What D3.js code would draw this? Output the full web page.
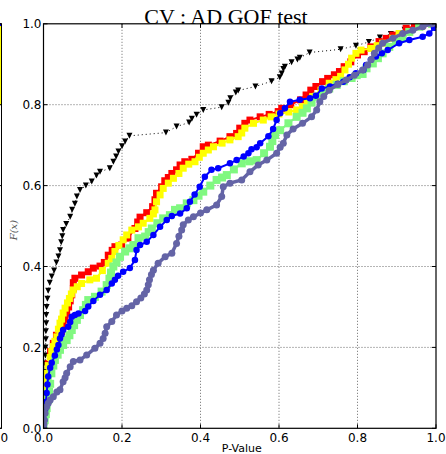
<!DOCTYPE html>
<html><head><meta charset="utf-8">
<script src="https://cdn.jsdelivr.net/npm/d3@7"></script>
<style>body{margin:0;background:#fff}svg{display:block}</style>
</head><body>
<svg id="c" width="446" height="454"></svg>
<script>
const titleText = "CV : AD GOF test";
const xLabel = "P-Value";
const yLabel = "F(x)";
const xTicks = [0, 0.2, 0.4, 0.6, 0.8, 1.0];
const yTicks = [0, 0.2, 0.4, 0.6, 0.8, 1.0];

const blackPts = [[0,0],[0.001,0.02],[0.001,0.04],[0.002,0.06],[0.002,0.08],[0.003,0.10],[0.003,0.12],[0.004,0.14],[0.004,0.16],[0.005,0.18],[0.005,0.20],[0.006,0.22],[0.006,0.24],[0.007,0.26],[0.007,0.28],[0.008,0.30],[0.010,0.32],[0.012,0.34],[0.016,0.36],[0.021,0.375],[0.027,0.39],[0.033,0.41],[0.038,0.425],[0.042,0.44],[0.045,0.46],[0.048,0.475],[0.050,0.49],[0.058,0.505],[0.068,0.523],[0.073,0.54],[0.080,0.555],[0.085,0.573],[0.093,0.589],[0.108,0.60],[0.123,0.61],[0.135,0.625],[0.144,0.634],[0.169,0.643],[0.178,0.659],[0.185,0.672],[0.191,0.684],[0.200,0.697],[0.208,0.709],[0.219,0.723],[0.312,0.731],[0.339,0.746],[0.371,0.756],[0.378,0.765],[0.390,0.775],[0.407,0.787],[0.454,0.794],[0.471,0.805],[0.476,0.816],[0.490,0.830],[0.496,0.835],[0.540,0.845],[0.581,0.858],[0.602,0.868],[0.607,0.877],[0.611,0.888],[0.615,0.894],[0.632,0.905],[0.647,0.912],[0.653,0.916],[0.678,0.929],[0.757,0.937],[0.796,0.946],[0.829,0.955],[0.857,0.966],[0.885,0.975],[0.920,0.985],[0.960,0.993],[0.990,1.0]];

const redPts = [[0,0],[0.002,0.04],[0.004,0.08],[0.007,0.12],[0.012,0.16],[0.018,0.19],[0.025,0.21],[0.033,0.23],[0.046,0.24],[0.050,0.255],[0.055,0.27],[0.059,0.285],[0.064,0.30],[0.068,0.315],[0.072,0.33],[0.076,0.345],[0.076,0.36],[0.080,0.371],[0.097,0.379],[0.114,0.387],[0.127,0.396],[0.144,0.401],[0.155,0.41],[0.165,0.428],[0.175,0.44],[0.182,0.449],[0.199,0.453],[0.215,0.47],[0.233,0.494],[0.240,0.51],[0.246,0.522],[0.263,0.533],[0.278,0.548],[0.284,0.565],[0.288,0.581],[0.301,0.597],[0.309,0.612],[0.318,0.62],[0.327,0.630],[0.339,0.639],[0.348,0.651],[0.360,0.659],[0.378,0.665],[0.395,0.68],[0.407,0.696],[0.420,0.700],[0.450,0.71],[0.475,0.721],[0.492,0.729],[0.500,0.742],[0.513,0.754],[0.526,0.762],[0.552,0.770],[0.575,0.776],[0.598,0.783],[0.607,0.791],[0.630,0.80],[0.655,0.812],[0.669,0.824],[0.681,0.836],[0.694,0.845],[0.711,0.857],[0.724,0.865],[0.741,0.874],[0.754,0.882],[0.766,0.894],[0.783,0.906],[0.800,0.923],[0.817,0.931],[0.834,0.943],[0.855,0.956],[0.873,0.964],[0.890,0.972],[0.915,0.976],[0.924,0.989],[0.945,0.993],[0.966,0.997],[0.99,1.0]];

const yellowPts = [[0,0],[0.001,0.03],[0.002,0.06],[0.003,0.09],[0.005,0.12],[0.008,0.136],[0.012,0.155],[0.017,0.175],[0.021,0.19],[0.025,0.202],[0.029,0.215],[0.034,0.226],[0.038,0.245],[0.042,0.260],[0.046,0.27],[0.050,0.285],[0.055,0.297],[0.061,0.31],[0.066,0.321],[0.071,0.332],[0.076,0.342],[0.086,0.35],[0.097,0.358],[0.118,0.367],[0.135,0.371],[0.150,0.39],[0.165,0.408],[0.174,0.420],[0.182,0.437],[0.192,0.452],[0.203,0.466],[0.212,0.478],[0.225,0.490],[0.242,0.498],[0.254,0.507],[0.271,0.519],[0.280,0.53],[0.284,0.540],[0.288,0.56],[0.297,0.577],[0.305,0.593],[0.318,0.606],[0.331,0.618],[0.345,0.63],[0.356,0.643],[0.370,0.653],[0.386,0.659],[0.397,0.67],[0.407,0.680],[0.420,0.688],[0.433,0.696],[0.455,0.705],[0.475,0.713],[0.496,0.721],[0.505,0.73],[0.513,0.742],[0.535,0.754],[0.560,0.762],[0.580,0.77],[0.600,0.777],[0.625,0.782],[0.645,0.787],[0.660,0.795],[0.672,0.805],[0.686,0.820],[0.707,0.836],[0.728,0.853],[0.745,0.862],[0.757,0.870],[0.768,0.886],[0.777,0.9],[0.785,0.915],[0.796,0.927],[0.809,0.935],[0.834,0.939],[0.850,0.946],[0.864,0.952],[0.890,0.964],[0.906,0.976],[0.932,0.980],[0.962,0.993],[0.99,1.0]];

const greenPts = [[0,0],[0.003,0.02],[0.006,0.035],[0.008,0.05],[0.012,0.07],[0.014,0.09],[0.017,0.11],[0.020,0.136],[0.025,0.155],[0.029,0.169],[0.036,0.182],[0.042,0.194],[0.050,0.206],[0.059,0.218],[0.066,0.23],[0.072,0.243],[0.078,0.255],[0.085,0.268],[0.093,0.28],[0.101,0.292],[0.108,0.305],[0.114,0.317],[0.131,0.325],[0.148,0.338],[0.161,0.354],[0.168,0.37],[0.172,0.385],[0.178,0.400],[0.186,0.41],[0.195,0.424],[0.208,0.437],[0.219,0.445],[0.229,0.453],[0.242,0.470],[0.259,0.474],[0.268,0.485],[0.276,0.494],[0.29,0.507],[0.305,0.519],[0.322,0.527],[0.335,0.540],[0.348,0.544],[0.365,0.556],[0.382,0.564],[0.395,0.575],[0.407,0.585],[0.425,0.60],[0.441,0.614],[0.455,0.62],[0.467,0.626],[0.485,0.64],[0.505,0.655],[0.525,0.66],[0.543,0.663],[0.562,0.68],[0.577,0.696],[0.583,0.71],[0.590,0.725],[0.603,0.737],[0.624,0.754],[0.645,0.770],[0.660,0.78],[0.671,0.791],[0.683,0.805],[0.696,0.820],[0.712,0.83],[0.728,0.840],[0.747,0.849],[0.765,0.858],[0.785,0.866],[0.798,0.873],[0.813,0.876],[0.823,0.89],[0.839,0.902],[0.852,0.915],[0.864,0.927],[0.881,0.943],[0.898,0.955],[0.915,0.964],[0.932,0.980],[0.957,0.993],[0.99,1.0]];

const bluePts = [[0,0],[0.002,0.02],[0.004,0.045],[0.006,0.065],[0.008,0.087],[0.010,0.108],[0.012,0.128],[0.017,0.15],[0.021,0.162],[0.029,0.18],[0.034,0.195],[0.038,0.206],[0.042,0.222],[0.046,0.232],[0.050,0.243],[0.063,0.251],[0.068,0.263],[0.072,0.276],[0.080,0.280],[0.089,0.284],[0.106,0.290],[0.114,0.301],[0.127,0.315],[0.144,0.330],[0.161,0.342],[0.174,0.358],[0.182,0.367],[0.190,0.377],[0.203,0.387],[0.220,0.396],[0.233,0.416],[0.237,0.441],[0.246,0.453],[0.263,0.461],[0.280,0.478],[0.297,0.498],[0.314,0.515],[0.327,0.525],[0.348,0.531],[0.365,0.544],[0.373,0.56],[0.385,0.578],[0.398,0.597],[0.411,0.622],[0.428,0.639],[0.445,0.643],[0.475,0.655],[0.492,0.663],[0.510,0.672],[0.522,0.680],[0.530,0.69],[0.543,0.695],[0.552,0.705],[0.573,0.722],[0.585,0.740],[0.594,0.762],[0.603,0.779],[0.615,0.791],[0.628,0.807],[0.653,0.812],[0.679,0.816],[0.694,0.822],[0.709,0.840],[0.730,0.845],[0.750,0.852],[0.764,0.857],[0.780,0.868],[0.796,0.878],[0.815,0.886],[0.822,0.898],[0.834,0.911],[0.847,0.919],[0.862,0.927],[0.877,0.935],[0.906,0.952],[0.932,0.960],[0.966,0.968],[0.983,0.976],[0.995,0.99],[1.0,1.0]];

const slatePts = [[0,0],[0.001,0.01],[0.002,0.02],[0.004,0.037],[0.008,0.053],[0.012,0.062],[0.017,0.070],[0.025,0.078],[0.034,0.090],[0.042,0.095],[0.050,0.115],[0.055,0.125],[0.059,0.136],[0.068,0.152],[0.076,0.165],[0.093,0.169],[0.110,0.181],[0.131,0.198],[0.144,0.210],[0.152,0.222],[0.157,0.235],[0.161,0.251],[0.174,0.264],[0.186,0.280],[0.200,0.290],[0.212,0.297],[0.225,0.303],[0.237,0.313],[0.248,0.322],[0.257,0.332],[0.263,0.342],[0.267,0.355],[0.270,0.367],[0.275,0.38],[0.280,0.391],[0.292,0.408],[0.310,0.424],[0.327,0.433],[0.339,0.457],[0.345,0.475],[0.352,0.490],[0.356,0.503],[0.369,0.515],[0.382,0.523],[0.400,0.532],[0.416,0.540],[0.441,0.552],[0.454,0.573],[0.458,0.597],[0.475,0.606],[0.505,0.614],[0.526,0.634],[0.547,0.651],[0.569,0.663],[0.594,0.680],[0.603,0.695],[0.611,0.705],[0.620,0.725],[0.636,0.740],[0.660,0.754],[0.683,0.770],[0.696,0.787],[0.704,0.807],[0.714,0.82],[0.728,0.836],[0.750,0.850],[0.771,0.861],[0.792,0.873],[0.813,0.886],[0.826,0.898],[0.835,0.912],[0.843,0.927],[0.854,0.94],[0.864,0.952],[0.890,0.964],[0.915,0.976],[0.941,0.984],[0.966,0.993],[0.99,1.0]];

const seriesList = [
  {pts: blackPts,  color: "#000000", lw: 1,   dash: "1,3", marker: "tri",    size: 6},
  {pts: redPts,    color: "#ff0000", lw: 2,   dash: null,  marker: "square", size: 7},
  {pts: yellowPts, color: "#ffff00", lw: 2,   dash: null,  marker: "square", size: 7},
  {pts: greenPts,  color: "#80f880", lw: 2,   dash: null,  marker: "square", size: 8},
  {pts: bluePts,   color: "#0000ff", lw: 2,   dash: null,  marker: "circle", size: 6.5},
  {pts: slatePts,  color: "#6464a6", lw: 3.5, dash: null,  marker: "circle", size: 7}
];

const svg = d3.select("#c");
const L = 43.5, R = 436, T = 23.8, B = 428.3;
const x = d3.scaleLinear().domain([0, 1]).range([L, R]);
const y = d3.scaleLinear().domain([0, 1]).range([B, T]);

// partial neighbouring subplot on the left edge
svg.append("rect").attr("x", -10).attr("y", T + 0.5).attr("width", 11.5).attr("height", y(0.8) - T).attr("fill", "#ffff00");
svg.append("line").attr("x1", -10).attr("x2", 1.5).attr("y1", T + 1).attr("y2", T + 1).attr("stroke", "#0000ff").attr("stroke-width", 2.5);
svg.append("rect").attr("x", -10).attr("y", T).attr("width", 11.5).attr("height", B - T).attr("fill", "none").attr("stroke", "#000").attr("stroke-width", 1);
yTicks.forEach(v => {
  svg.append("line").attr("x1", 1.5).attr("x2", -3).attr("y1", y(v)).attr("y2", y(v)).attr("stroke", "#000");
});
svg.append("text").attr("x", -1.5).attr("y", 442).attr("text-anchor", "middle")
  .attr("font-family", "DejaVu Sans").attr("font-size", 12).attr("fill", "#000").text("1.0");

// grid
const grid = svg.append("g");
xTicks.slice(1, -1).forEach(v => {
  grid.append("line").attr("x1", x(v)).attr("x2", x(v)).attr("y1", T).attr("y2", B)
    .attr("stroke", "#444").attr("stroke-width", 0.8).attr("stroke-dasharray", "1,2");
});
yTicks.slice(1, -1).forEach(v => {
  grid.append("line").attr("x1", L).attr("x2", R).attr("y1", y(v)).attr("y2", y(v))
    .attr("stroke", "#444").attr("stroke-width", 0.8).attr("stroke-dasharray", "1,2");
});

svg.append("defs").append("clipPath").attr("id", "clip")
  .append("rect").attr("x", L).attr("y", T).attr("width", R - L).attr("height", B - T);

const plot = svg.append("g").attr("clip-path", "url(#clip)");
const line = d3.line().x(d => x(d[0])).y(d => y(d[1]));

seriesList.forEach(s => {
  const g = plot.append("g");
  const p = g.append("path").datum(s.pts).attr("d", line).attr("fill", "none")
    .attr("stroke", s.color).attr("stroke-width", s.lw);
  if (s.dash) p.attr("stroke-dasharray", s.dash);
  if (s.marker === "square") {
    g.selectAll("rect").data(s.pts).enter().append("rect")
      .attr("x", d => x(d[0]) - s.size / 2).attr("y", d => y(d[1]) - s.size / 2)
      .attr("width", s.size).attr("height", s.size).attr("fill", s.color);
  } else if (s.marker === "circle") {
    g.selectAll("circle").data(s.pts).enter().append("circle")
      .attr("cx", d => x(d[0])).attr("cy", d => y(d[1])).attr("r", s.size / 2).attr("fill", s.color);
  } else {
    const h = s.size;
    g.selectAll("path.m").data(s.pts).enter().append("path").attr("class", "m")
      .attr("d", d => {
        const cx = x(d[0]), cy = y(d[1]);
        return `M${cx - h / 2},${cy - h / 2}L${cx + h / 2},${cy - h / 2}L${cx},${cy + h / 2}Z`;
      }).attr("fill", s.color);
  }
});

// frame
svg.append("rect").attr("x", L).attr("y", T).attr("width", R - L).attr("height", B - T)
  .attr("fill", "none").attr("stroke", "#000").attr("stroke-width", 1.2);

// ticks (inward, all sides)
const tk = svg.append("g").attr("stroke", "#000").attr("stroke-width", 1);
xTicks.forEach(v => {
  tk.append("line").attr("x1", x(v)).attr("x2", x(v)).attr("y1", B).attr("y2", B - 4);
  tk.append("line").attr("x1", x(v)).attr("x2", x(v)).attr("y1", T).attr("y2", T + 4);
});
yTicks.forEach(v => {
  tk.append("line").attr("x1", L).attr("x2", L + 4).attr("y1", y(v)).attr("y2", y(v));
  tk.append("line").attr("x1", R).attr("x2", R - 4).attr("y1", y(v)).attr("y2", y(v));
});

const fmt = d3.format(".1f");
svg.append("g").selectAll("text").data(xTicks).enter().append("text")
  .attr("x", d => x(d)).attr("y", 442).attr("text-anchor", "middle")
  .attr("font-family", "DejaVu Sans").attr("font-size", 12).attr("fill", "#000").text(d => fmt(d));
svg.append("g").selectAll("text").data(yTicks).enter().append("text")
  .attr("x", L - 2).attr("y", d => y(d) + 4.5).attr("text-anchor", "end")
  .attr("font-family", "DejaVu Sans").attr("font-size", 12).attr("fill", "#000").text(d => fmt(d));

svg.append("text").attr("x", (L + R) / 2 + 2).attr("y", 452).attr("text-anchor", "middle")
  .attr("font-family", "DejaVu Sans").attr("font-size", 11).attr("fill", "#000").text(xLabel);

svg.append("text").attr("transform", `translate(17,${(T + B) / 2 + 4}) rotate(-90)`)
  .attr("text-anchor", "middle").attr("font-family", "DejaVu Serif").attr("font-style", "italic")
  .attr("font-size", 10).attr("fill", "#555").text(yLabel);

svg.append("text").attr("x", 226).attr("y", 24).attr("text-anchor", "middle")
  .attr("font-family", "Liberation Serif").attr("font-size", 22).attr("fill", "#000").text(titleText);
</script>
</body></html>
